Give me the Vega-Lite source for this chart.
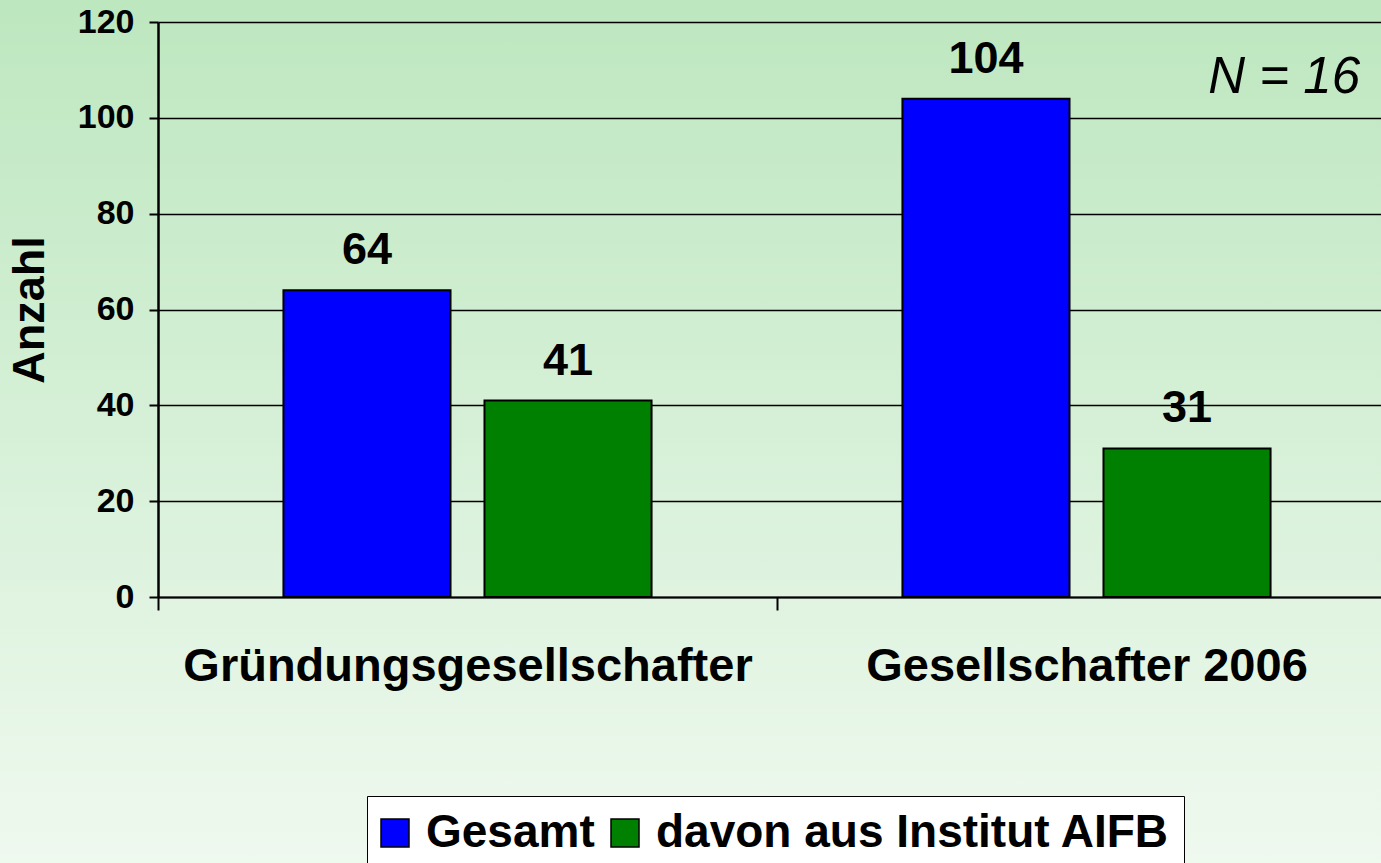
{
  "$schema": "https://vega.github.io/schema/vega-lite/v6.json",
  "width": 1381,
  "height": 863,
  "autosize": {"type": "none"},
  "padding": 0,
  "background": "#d8f0d9",
  "config": {"font": "Liberation Sans", "view": {"stroke": null}},
  "view": {
    "stroke": null,
    "fill": {
      "gradient": "linear",
      "x1": 0, "y1": 0, "x2": 0, "y2": 1,
      "stops": [
        {"offset": 0, "color": "#bde7bf"},
        {"offset": 1, "color": "#eff9ef"}
      ]
    }
  },
  "data": {
    "values": [
      {"gruppe": "Gründungsgesellschafter", "serie": "Gesamt", "anzahl": 64},
      {"gruppe": "Gründungsgesellschafter", "serie": "davon aus Institut AIFB", "anzahl": 41},
      {"gruppe": "Gesellschafter 2006", "serie": "Gesamt", "anzahl": 104},
      {"gruppe": "Gesellschafter 2006", "serie": "davon aus Institut AIFB", "anzahl": 31}
    ]
  },
  "layer": [
    {
      "mark": {"type": "bar", "stroke": "black", "strokeWidth": 2},
      "encoding": {
        "x": {
          "field": "gruppe", "type": "nominal",
          "scale": {"domain": ["Gründungsgesellschafter", "Gesellschafter 2006"], "range": [158, 1396], "paddingInner": 0, "paddingOuter": 0},
          "axis": {
            "title": null, "orient": "bottom", "offset": -266, "labelAngle": 0,
            "labelFontSize": 47, "labelFontWeight": "bold", "labelColor": "black", "labelPadding": 33,
            "tickBand": "extent", "tickSize": 13, "tickColor": "black", "tickWidth": 2,
            "domainColor": "black", "domainWidth": 2, "grid": false, "labelLimit": 0
          }
        },
        "xOffset": {
          "field": "serie", "type": "nominal",
          "scale": {"domain": ["Gesamt", "davon aus Institut AIFB"], "paddingInner": 0.169, "paddingOuter": 0.624}
        },
        "y": {
          "field": "anzahl", "type": "quantitative",
          "scale": {"domain": [0, 120], "range": [597, 22], "nice": false, "zero": true},
          "axis": {
            "title": "Anzahl", "titleFontSize": 45, "titleFontWeight": "bold", "titleColor": "black", "titlePadding": 25,
            "orient": "left", "offset": -158, "values": [0, 20, 40, 60, 80, 100, 120],
            "labelFontSize": 34, "labelFontWeight": "bold", "labelColor": "black", "labelPadding": 15,
            "tickSize": 9, "tickColor": "black", "tickWidth": 2,
            "domainColor": "black", "domainWidth": 2.5,
            "grid": true, "gridColor": "black", "gridWidth": 1.6, "gridOpacity": 1
          }
        },
        "color": {
          "field": "serie", "type": "nominal",
          "scale": {"domain": ["Gesamt", "davon aus Institut AIFB"], "range": ["#0000ff", "#008000"]},
          "legend": {
            "orient": "none", "legendX": 367, "legendY": 796, "direction": "horizontal", "title": null,
            "fillColor": "white", "strokeColor": "black", "padding": 14,
            "symbolType": "square", "symbolSize": 784, "symbolStrokeColor": "black", "symbolStrokeWidth": 1.5, "symbolOpacity": 1,
            "symbolOffset": -9,
            "labelFontSize": 46, "labelFontWeight": "bold", "labelColor": "black", "labelOffset": 8, "labelLimit": 0,
            "columnPadding": 13
          }
        }
      }
    },
    {
      "mark": {"type": "text", "baseline": "alphabetic", "dy": -26, "fontSize": 45, "fontWeight": "bold", "color": "black"},
      "encoding": {
        "x": {"field": "gruppe", "type": "nominal", "scale": {"domain": ["Gründungsgesellschafter", "Gesellschafter 2006"]}},
        "xOffset": {"field": "serie", "type": "nominal", "scale": {"domain": ["Gesamt", "davon aus Institut AIFB"]}},
        "y": {"field": "anzahl", "type": "quantitative", "scale": {"domain": [0, 120]}},
        "text": {"field": "anzahl", "type": "quantitative"}
      }
    },
    {
      "data": {"values": [{}]},
      "mark": {"type": "text", "text": "N = 16", "align": "right", "baseline": "alphabetic", "dx": 173, "fontSize": 51, "fontStyle": "italic", "color": "black"},
      "encoding": {
        "x": {"datum": "Gesellschafter 2006", "type": "nominal", "scale": {"domain": ["Gründungsgesellschafter", "Gesellschafter 2006"]}},
        "xOffset": {"datum": "davon aus Institut AIFB", "type": "nominal", "scale": {"domain": ["Gesamt", "davon aus Institut AIFB"]}},
        "y": {"datum": 105.2, "type": "quantitative", "scale": {"domain": [0, 120]}}
      }
    }
  ]
}
